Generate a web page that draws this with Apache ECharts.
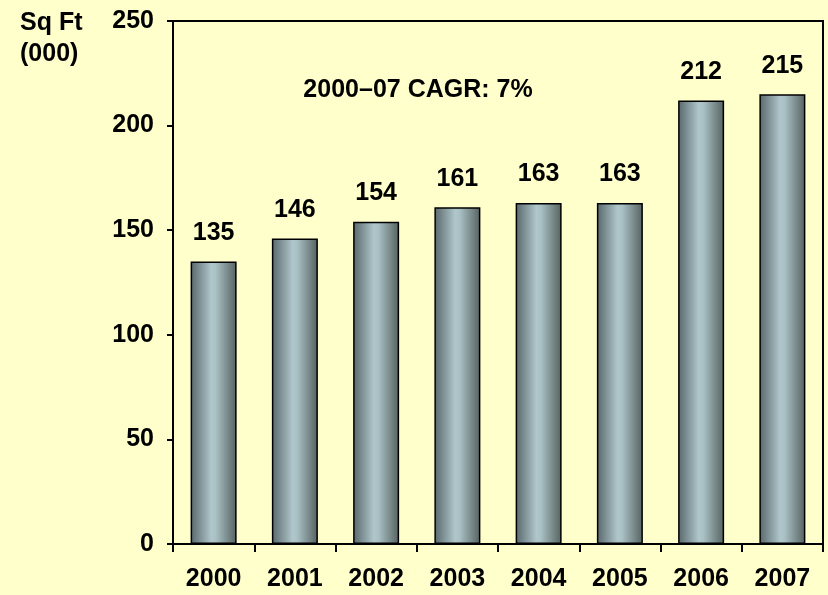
<!DOCTYPE html>
<html>
<head>
<meta charset="utf-8">
<script src="https://cdn.jsdelivr.net/npm/echarts@6/dist/echarts.min.js"></script>
<style>
  html, body { margin: 0; padding: 0; background: #FFFFCC; }
  #chart { width: 828px; height: 595px; }
</style>
</head>
<body>
<div id="chart"></div>
<script>
// Retail space, thousands of square feet, by year
const years = ['2000', '2001', '2002', '2003', '2004', '2005', '2006', '2007'];
const sqFt = [135, 146, 154, 161, 163, 163, 212, 215];
const yTicks = [0, 50, 100, 150, 200, 250];
const unitLines = ['Sq Ft', '(000)'];
const growthNote = '2000–07 CAGR: 7%';

const FONT = '"Liberation Sans", Arial, sans-serif';
const FS = 25;

const barFill = new echarts.graphic.LinearGradient(0, 0, 1, 0, [
  { offset: 0, color: '#58676b' },
  { offset: 0.45, color: '#afc6ca' },
  { offset: 0.55, color: '#a9c0c4' },
  { offset: 1, color: '#55625f' }
]);

const chart = echarts.init(document.getElementById('chart'), null, { renderer: 'canvas' });

chart.setOption({
  backgroundColor: '#FFFFCC',
  animation: false,
  grid: {
    left: 173, right: 5, top: 21, bottom: 51,
    show: true, borderColor: '#000', borderWidth: 2, backgroundColor: 'transparent'
  },
  xAxis: {
    type: 'category',
    data: years,
    axisLine: { lineStyle: { color: '#000', width: 2 } },
    axisTick: { show: true, length: 8, lineStyle: { color: '#000', width: 2 } },
    axisLabel: { color: '#000', fontFamily: FONT, fontWeight: 'bold', fontSize: FS, margin: 23 }
  },
  yAxis: {
    type: 'value',
    min: yTicks[0],
    max: yTicks[yTicks.length - 1],
    interval: yTicks[1] - yTicks[0],
    splitLine: { show: false },
    axisLine: { show: true, lineStyle: { color: '#000', width: 2 } },
    axisTick: { show: true, length: 6, lineStyle: { color: '#000', width: 2 } },
    axisLabel: { color: '#000', fontFamily: FONT, fontWeight: 'bold', fontSize: FS, margin: 19 }
  },
  series: [{
    type: 'bar',
    data: sqFt,
    barWidth: 46,
    itemStyle: { color: barFill, borderColor: '#000', borderWidth: 1.5 },
    label: {
      show: true, position: 'top', distance: 16,
      color: '#000', fontFamily: FONT, fontWeight: 'bold', fontSize: FS
    }
  }],
  graphic: [
    {
      type: 'text', left: 20, top: 8,
      style: {
        text: unitLines.join('\n'), fill: '#000',
        font: 'bold ' + FS + 'px ' + FONT, lineHeight: 31
      }
    },
    {
      type: 'text', x: 418, y: 90,
      style: {
        text: growthNote, fill: '#000', align: 'center', verticalAlign: 'middle',
        font: 'bold ' + FS + 'px ' + FONT
      }
    }
  ]
});
</script>
</body>
</html>
